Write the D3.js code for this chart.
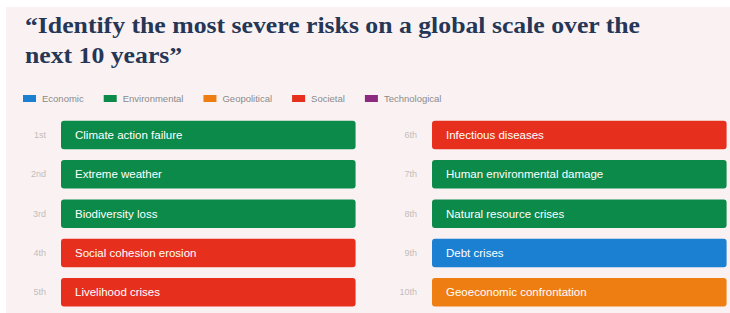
<!DOCTYPE html>
<html>
<head>
<meta charset="utf-8">
<script src="https://cdn.jsdelivr.net/npm/d3@7"></script>
<style>
  body { margin: 0; background: #fff; }
  svg { display: block; }
</style>
</head>
<body>
<div class="chart"></div>
<script>
// Paramètres
const width = 730;
const height = 313;

const titleLines = ['\u201CIdentify the most severe risks on a global scale over the', 'next 10 years\u201D'];

const categories = ['Economic', 'Environmental', 'Geopolitical', 'Societal', 'Technological'];
const categoryColors = ['#1b7fd2', '#0c8a4a', '#ef7e12', '#e6301d', '#8c2a7f'];

const ranks = ['1st', '2nd', '3rd', '4th', '5th', '6th', '7th', '8th', '9th', '10th'];
const risks = [
  'Climate action failure', 'Extreme weather', 'Biodiversity loss', 'Social cohesion erosion', 'Livelihood crises',
  'Infectious diseases', 'Human environmental damage', 'Natural resource crises', 'Debt crises', 'Geoeconomic confrontation'
];
const riskCategories = [
  'Environmental', 'Environmental', 'Environmental', 'Societal', 'Societal',
  'Societal', 'Environmental', 'Environmental', 'Economic', 'Geopolitical'
];

const data = ranks.map((r, i) => ({
  rank: r,
  risk: risks[i],
  category: riskCategories[i],
  col: Math.floor(i / 5),
  row: i % 5
}));

const svg = d3.select('.chart')
  .append('svg')
  .attr('width', width)
  .attr('height', height);

// fond rose
svg.append('rect')
  .attr('x', 6).attr('y', 7)
  .attr('width', width - 6).attr('height', height - 7)
  .attr('fill', '#faf2f2');

// titre - la 1re ligne fait 615px, la 2e suit la même compression
const title = svg.append('g')
  .attr('fill', '#253656')
  .style('font', 'bold 24px "Liberation Serif", serif');

const titleTexts = titleLines.map((line, i) => title.append('text')
  .attr('x', 25)
  .attr('y', 33 + i * 30)
  .text(line));

const ratio = 615 / titleTexts[0].node().getComputedTextLength();
titleTexts.forEach(t => {
  const w = t.node().getComputedTextLength();
  t.attr('textLength', w * ratio).attr('lengthAdjust', 'spacingAndGlyphs');
});

const colorScale = d3.scaleOrdinal()
  .domain(categories)
  .range(categoryColors);

// légende
const legend = svg.append('g')
  .style('font', '9.5px "Liberation Sans", Arial, sans-serif');

let lx = 23;
categories.forEach(c => {
  const g = legend.append('g').attr('transform', `translate(${lx}, 95)`);
  g.append('rect')
    .attr('width', 13).attr('height', 7)
    .attr('fill', colorScale(c));
  const t = g.append('text')
    .attr('x', 19).attr('y', 3.5)
    .attr('dy', '0.35em')
    .attr('fill', '#8a8a8a')
    .text(c);
  lx += 19 + t.node().getComputedTextLength() + 20;
});

// échelles
const scaleCol = d3.scaleBand()
  .domain([0, 1])
  .range([61, 726.6])
  .paddingInner(0.206);

const scaleRow = d3.scaleBand()
  .domain(d3.range(5))
  .range([120.8, 306.5])
  .paddingInner(0.275);

const rows = svg.append('g')
  .selectAll('g')
  .data(data)
  .join('g')
    .attr('transform', d => `translate(${scaleCol(d.col)}, ${scaleRow(d.row)})`);

rows.append('rect')
  .attr('width', scaleCol.bandwidth())
  .attr('height', scaleRow.bandwidth())
  .attr('rx', 3)
  .attr('fill', d => colorScale(d.category));

rows.append('text')
  .attr('x', 14)
  .attr('y', scaleRow.bandwidth() / 2)
  .attr('dy', '0.35em')
  .attr('fill', '#fff')
  .style('font', '11.5px "Liberation Sans", Arial, sans-serif')
  .text(d => d.risk);

rows.append('text')
  .attr('x', -15)
  .attr('y', scaleRow.bandwidth() / 2)
  .attr('dy', '0.35em')
  .attr('text-anchor', 'end')
  .attr('fill', '#c2bcbc')
  .style('font', '9px "Liberation Sans", Arial, sans-serif')
  .text(d => d.rank);
</script>
</body>
</html>
